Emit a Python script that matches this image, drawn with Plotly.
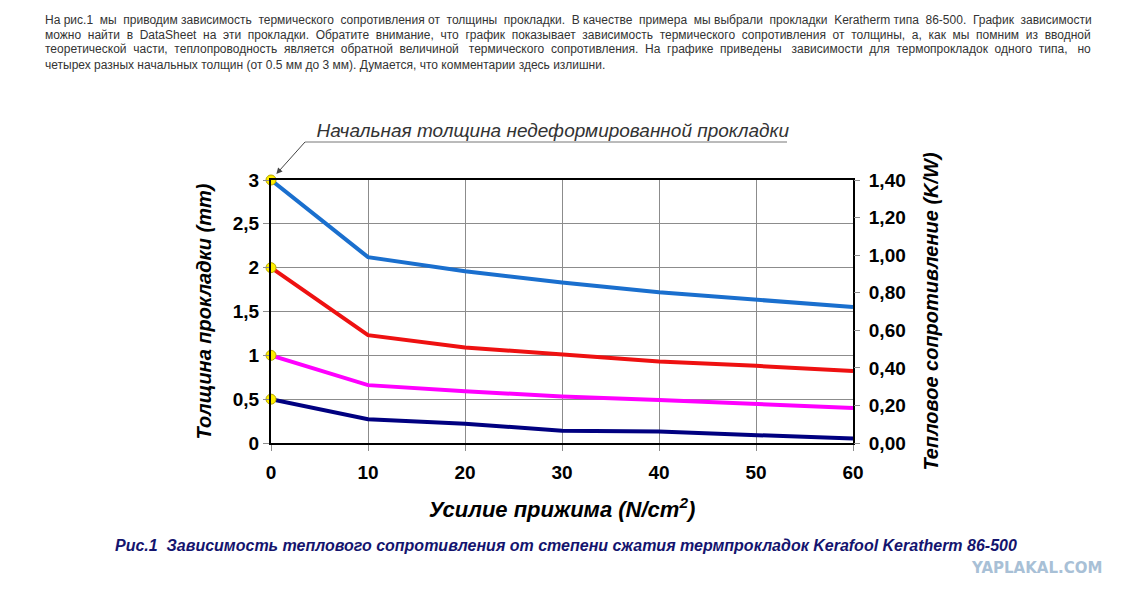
import plotly.graph_objects as go

# data
pressure = [0, 10, 20, 30, 40, 50, 60]
pad_3mm = [3.0, 2.12, 1.96, 1.83, 1.72, 1.63, 1.55]
pad_2mm = [2.0, 1.23, 1.09, 1.01, 0.93, 0.88, 0.82]
pad_1mm = [1.0, 0.66, 0.59, 0.53, 0.49, 0.45, 0.40]
pad_05mm = [0.5, 0.27, 0.22, 0.14, 0.13, 0.09, 0.05]

left_tickvals = [0, 0.5, 1, 1.5, 2, 2.5, 3]
left_ticktext = ["0", "0,5", "1", "1,5", "2", "2,5", "3"]
right_tickvals = [0, 0.2, 0.4, 0.6, 0.8, 1.0, 1.2, 1.4]
right_ticktext = ["0,00", "0,20", "0,40", "0,60", "0,80", "1,00", "1,20", "1,40"]
x_tickvals = [0, 10, 20, 30, 40, 50, 60]

paragraph = [
    "На рис.1 мы приводим зависимость термического сопротивления от толщины прокладки. "
    "В качестве примера мы выбрали прокладки Keratherm типа 86-500. График зависимости",
    "можно найти в DataSheet на эти прокладки. Обратите внимание, что график показывает "
    "зависимость термического сопротивления от толщины, а, как мы помним из вводной",
    "теоретической части, теплопроводность является обратной величиной термического "
    "сопротивления. На графике приведены зависимости для термопрокладок одного типа, но",
    "четырех разных начальных толщин (от 0.5 мм до 3 мм). Думается, что комментарии здесь излишни.",
]
caption = ("Рис.1  Зависимость теплового сопротивления от степени сжатия "
           "термпрокладок Kerafool Keratherm 86-500")
note = "Начальная толщина недеформированной прокладки"

W, H = 1130, 598
OFF = 8  # page margin of the browser
L, R, T, B = 271 - OFF, 853 - OFF, 180 - OFF, 443 - OFF


def px(x):
    return (x - OFF - L) / (R - L)


def py(y):
    return (B - (y - OFF)) / (B - T)


def justify(text, extra):
    # spread `extra` non-breaking spaces over the word gaps
    words = text.split(" ")
    gaps = len(words) - 1
    out = words[0]
    for j in range(gaps):
        n = (j + 1) * extra // gaps - j * extra // gaps
        out += " " + "\u00a0" * n + words[j + 1]
    return out


FONT = "Liberation Sans, Arial, sans-serif"

fig = go.Figure()

series = [(pad_3mm, "#1a6fce"), (pad_2mm, "#ee1111"),
          (pad_1mm, "#ff00ff"), (pad_05mm, "#000080")]
for vals, col in series:
    fig.add_trace(go.Scatter(x=pressure, y=vals, mode="lines",
                             line=dict(color=col, width=4),
                             showlegend=False, hoverinfo="skip"))

# yellow dots at initial thickness
fig.add_trace(go.Scatter(x=[pressure[0]] * 4, y=[s[0][0] for s in series],
                         mode="markers",
                         marker=dict(color="#ffee00", size=10,
                                     line=dict(color="#b8a800", width=1)),
                         showlegend=False, hoverinfo="skip", cliponaxis=False))

# right axis holder
fig.add_trace(go.Scatter(x=[None], y=[None], yaxis="y2", showlegend=False,
                         hoverinfo="skip"))

tickfont = dict(family=FONT, size=19, color="black", weight="bold")
titlefont = dict(family=FONT, size=20, color="black", weight="bold", style="italic")

fig.update_layout(
    width=W, height=H,
    margin=dict(l=L, r=W - R, t=T, b=H - B),
    paper_bgcolor="white", plot_bgcolor="white",
    xaxis=dict(range=[0, 60], tickvals=x_tickvals, tickfont=tickfont,
               showgrid=True, gridcolor="#8c8c8c", gridwidth=1,
               showline=True, linecolor="black", linewidth=2, mirror=True,
               ticks="outside", ticklen=6, tickcolor="#8c8c8c",
               ticklabelstandoff=5, zeroline=False,
               title=dict(text="Усилие прижима (N/cm<sup>2</sup>)",
                          font=dict(family=FONT, size=22, color="black",
                                    weight="bold", style="italic"),
                          standoff=20)),
    yaxis=dict(range=[0, 3], tickvals=left_tickvals, ticktext=left_ticktext,
               tickfont=tickfont, showgrid=True, gridcolor="#8c8c8c", gridwidth=1,
               showline=True, linecolor="black", linewidth=2, mirror=True,
               ticks="outside", ticklen=6, tickcolor="#8c8c8c", zeroline=False,
               title=dict(text="Толщина прокладки (mm)", font=titlefont, standoff=16)),
    yaxis2=dict(range=[0, 1.4], overlaying="y", side="right",
                tickvals=right_tickvals, ticktext=right_ticktext, tickfont=tickfont,
                showgrid=False, zeroline=False, showline=False,
                ticks="outside", ticklen=6, tickcolor="#8c8c8c",
                ticklabelstandoff=5,
                title=dict(text="Тепловое сопротивление (K/W)", font=titlefont,
                           standoff=19)),
)

# note with arrow to the initial point, and its underline
fig.add_annotation(x=0, y=3, xref="x", yref="y", showarrow=True,
                   ax=34, ay=-38, arrowhead=2, arrowsize=1.2, arrowwidth=1,
                   arrowcolor="#444444", standoff=8,
                   xanchor="left", yanchor="bottom", borderpad=0,
                   text="\u00a0\u00a0" + note,
                   font=dict(family=FONT, size=19, color="#333333", style="italic"))
fig.add_shape(type="line", xref="paper", yref="paper",
              x0=px(305), x1=px(787), y0=py(142), y1=py(142),
              line=dict(color="#777777", width=1))

# paragraph above the chart (first three lines justified)
extra_spaces = [14, 22, 19, 0]
for i, line in enumerate(paragraph):
    fig.add_annotation(x=px(43), y=py(19.5 + 15 * i), xref="paper", yref="paper",
                       xanchor="left", yanchor="middle", showarrow=False,
                       text=justify(line, extra_spaces[i]),
                       font=dict(family=FONT, size=12, color="#333333"))

fig.add_annotation(x=px(566), y=py(545), xref="paper", yref="paper",
                   xanchor="center", yanchor="middle", showarrow=False,
                   text=caption, font=dict(family=FONT, size=16, color="#14146e",
                                           weight="bold", style="italic"))

fig.add_annotation(x=px(1036), y=py(568), xref="paper", yref="paper",
                   xanchor="center", yanchor="middle", showarrow=False,
                   text="YAPLAKAL.COM",
                   font=dict(family="DejaVu Sans, sans-serif",
                             size=15, color="#a8c0d6", weight="bold"))

fig.write_html("out.html")
